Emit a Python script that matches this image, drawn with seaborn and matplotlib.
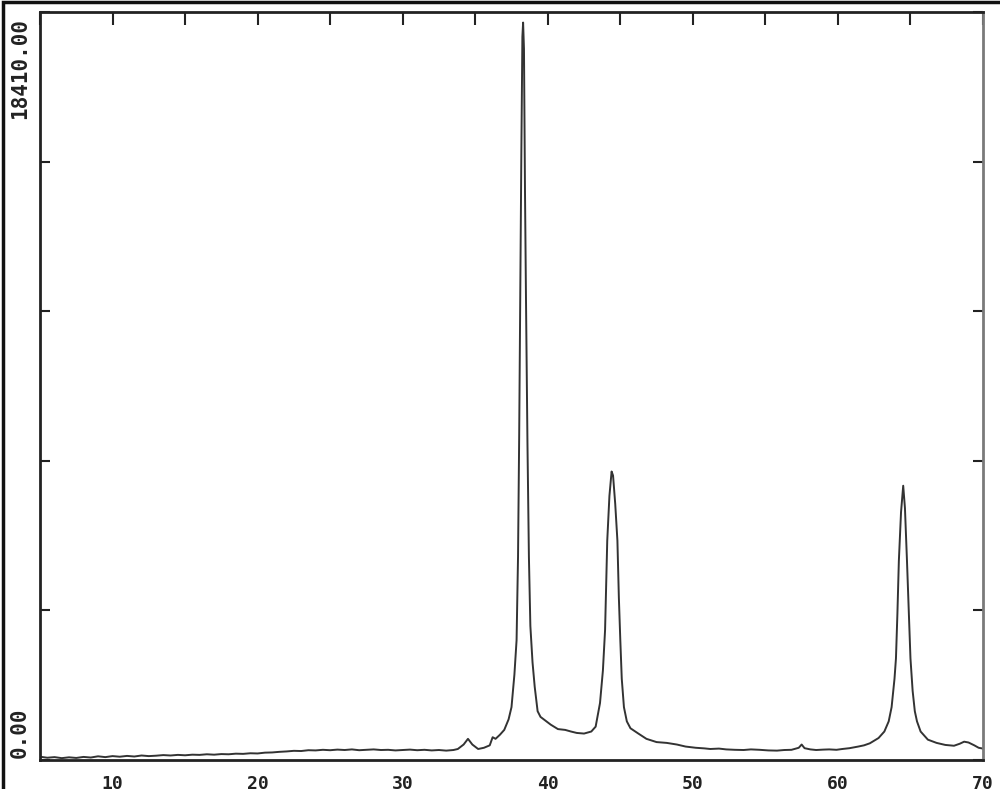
import numpy as np
import pandas as pd
import matplotlib.pyplot as plt
from matplotlib.patches import Rectangle
from matplotlib.ticker import MultipleLocator
import seaborn as sns

# 2-theta (deg) and counts
two_theta = [5.0, 5.5, 6.0, 6.5, 7.0, 7.5, 8.0, 8.5, 9.0, 9.5,
             10.0, 10.5, 11.0, 11.5, 12.0, 12.5, 13.0, 13.5, 14.0, 14.5,
             15.0, 15.5, 16.0, 16.5, 17.0, 17.5, 18.0, 18.5, 19.0, 19.5,
             20.0, 20.5, 21.0, 21.5, 22.0, 22.5, 23.0, 23.5, 24.0, 24.5,
             25.0, 25.5, 26.0, 26.5, 27.0, 27.5, 28.0, 28.5, 29.0, 29.5,
             30.0, 30.5, 31.0, 31.5, 32.0, 32.5, 33.0, 33.5, 33.8, 34.2,
             34.5, 34.8, 35.2, 35.6, 36.0, 36.2, 36.4, 36.7, 37.0, 37.3,
             37.5, 37.7, 37.85, 37.95, 38.03, 38.1, 38.18, 38.25, 38.3, 38.36,
             38.43, 38.5, 38.6, 38.7, 38.8, 38.95, 39.1, 39.3, 39.5, 39.8,
             40.2, 40.7, 41.2, 41.6, 42.0, 42.5, 43.0, 43.3, 43.6, 43.8,
             43.95, 44.1, 44.25, 44.4, 44.5, 44.65, 44.8, 44.9, 45.0, 45.1,
             45.25, 45.45, 45.7, 46.2, 46.8, 47.5, 48.2, 48.9, 49.5, 50.2,
             50.8, 51.2, 51.8, 52.3, 52.9, 53.5, 54.0, 54.6, 55.2, 55.8,
             56.3, 56.8, 57.3, 57.5, 57.7, 58.1, 58.5, 59.0, 59.4, 59.9,
             60.3, 60.8, 61.4, 61.8, 62.2, 62.8, 63.2, 63.5, 63.7, 63.9,
             64.0, 64.1, 64.2, 64.35, 64.5, 64.62, 64.76, 64.9, 65.0, 65.15,
             65.3, 65.45, 65.7, 66.2, 66.8, 67.4, 68.0, 68.4, 68.7, 69.0,
             69.4, 69.7, 70.0]
counts = [80, 55, 70, 45, 65, 50, 75, 60, 90, 70,
          95, 80, 100, 85, 110, 95, 105, 120, 110, 125,
          115, 130, 125, 140, 130, 145, 140, 155, 150, 165,
          160, 180, 185, 200, 210, 225, 220, 240, 235, 250,
          240, 255, 245, 260, 240, 250, 260, 245, 250, 235,
          245, 255, 240, 250, 235, 245, 230, 245, 270, 380,
          520, 380, 270, 300, 360, 560, 520, 620, 740, 1000,
          1300, 2100, 2950, 5000, 8000, 11300, 15000, 17800, 18150, 17500,
          14000, 11300, 7800, 5000, 3300, 2400, 1800, 1200, 1060, 980,
          870, 760, 740, 700, 665, 650, 700, 820, 1400, 2200,
          3200, 5400, 6500, 7100, 7000, 6300, 5400, 4000, 2950, 2000,
          1300, 950, 780, 660, 520, 440, 420, 380, 330, 300,
          285, 270, 280, 260, 250, 245, 260, 250, 235, 230,
          245, 250, 300, 380, 290, 260, 245, 255, 260, 250,
          270, 290, 330, 360, 410, 540, 700, 950, 1300, 2000,
          2500, 3600, 4900, 6100, 6750, 6200, 4900, 3500, 2500, 1700,
          1200, 950, 700, 500, 420, 370, 350, 400, 450, 430,
          360, 300, 280]

y_max = 18410.0
y_labels = ["0.00", "18410.00"]

df = pd.DataFrame({"two_theta": two_theta, "counts": counts})

sns.set_style("white")
plt.rcParams["font.family"] = ["DejaVu Sans Mono", "DejaVu Sans"]

fig = plt.figure(figsize=(10, 7.89), dpi=100)
ax = fig.add_axes([0.04, 0.0368, 0.943, 0.948])

sns.lineplot(data=df, x="two_theta", y="counts", ax=ax, estimator=None,
             color="#333333", linewidth=1.4)

ax.set_xlim(5, 70)
ax.set_ylim(0, y_max)
ax.set_xlabel("")
ax.set_ylabel("")

# bottom axis: labelled every 10, minor ticks every 1
ax.xaxis.set_major_locator(MultipleLocator(10))
ax.xaxis.set_minor_locator(MultipleLocator(1))
ax.tick_params(axis="x", which="major", direction="out", length=9, width=1.5,
               color="#222222", labelsize=13, pad=2, top=False)
ax.tick_params(axis="x", which="minor", direction="out", length=4, width=1.2,
               color="#222222", top=False)
for lab in ax.get_xticklabels():
    lab.set_fontweight("bold")
    lab.set_color("#222222")

# top axis ticks every 5 (inward)
sec = ax.secondary_xaxis("top")
sec.xaxis.set_major_locator(MultipleLocator(5))
sec.tick_params(direction="in", length=9, width=1.5, color="#222222", labeltop=False)
sec.spines["top"].set_visible(False)

# y ticks every fifth of the full scale, inward, no numbers
ax.set_yticks(np.linspace(0, y_max, 6))
ax.tick_params(axis="y", direction="in", length=7, width=1.5, color="#222222",
               left=True, right=True, labelleft=False)

for side in ["left", "bottom", "top"]:
    ax.spines[side].set_color("#222222")
    ax.spines[side].set_linewidth(2)
ax.spines["right"].set_color("#7a7a7a")
ax.spines["right"].set_linewidth(2)

# full-scale labels written sideways on the left
ytr = ax.get_yaxis_transform()
ax.text(-0.021, y_max - 150, y_labels[1], transform=ytr, rotation=90,
        ha="center", va="top", fontsize=15, fontweight="bold", color="#222222")
ax.text(-0.021, 60, y_labels[0], transform=ytr, rotation=90,
        ha="center", va="bottom", fontsize=15, fontweight="bold", color="#222222")

# scanned page border
fig.patches.append(Rectangle((0.003, -0.05), 1.1, 1.048, transform=fig.transFigure,
                             fill=False, linewidth=2.5, edgecolor="#111111"))

fig.savefig("out.png", dpi=100)
